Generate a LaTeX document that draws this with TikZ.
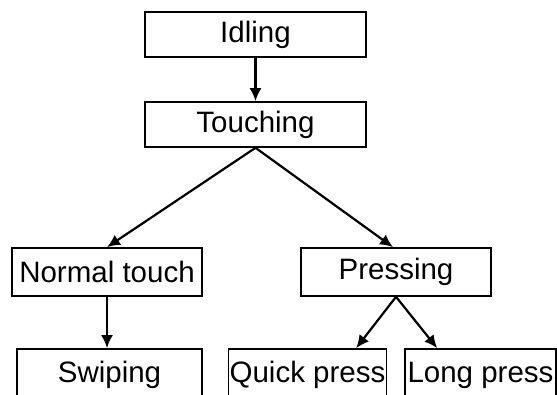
\documentclass[tikz,border=0pt]{standalone}
\usepackage{fontspec}
\setmainfont{Liberation Sans}
\usetikzlibrary{arrows.meta}

\begin{document}
\begin{tikzpicture}[x=1pt,y=1pt,
  every node/.style={draw,line width=1.6pt,inner sep=1pt,font=\fontsize{29.5}{34}\selectfont},
  link/.style={line width=2.2pt,-{Latex[length=13pt,width=12pt]}}]
\useasboundingbox (0,0) rectangle (557,394);
\clip (0,0) rectangle (557,394);
\node[minimum width=221pt,minimum height=45pt] (idle) at (255.5,359.5) {Idling};
\node[minimum width=221pt,minimum height=45pt] (touch) at (255.5,269.5) {Touching};
\node[minimum width=190pt,minimum height=48pt] (normal) at (107,122) {Normal touch};
\node[minimum width=190pt,minimum height=48pt] (press) at (396,122) {Pressing};
\node[minimum width=185pt,minimum height=52pt] (swipe) at (109.5,19) {Swiping};
\node[minimum width=157pt,minimum height=52pt] (quick) at (307.5,19) {Quick press};
\node[minimum width=151pt,minimum height=52pt] (long) at (480.5,19) {Long press};

\draw[link] (idle) -- (touch);
\draw[link] (touch.south) -- (normal.north);
\draw[link] (touch.south) -- ([xshift=-3pt]press.north);
\draw[link] (normal.south) -- (normal.south |- swipe.north);
\draw[link] (press.south) -- ([xshift=-31pt]quick.north east);
\draw[link] (press.south) -- ([xshift=33pt]long.north west);
\end{tikzpicture}
\end{document}
